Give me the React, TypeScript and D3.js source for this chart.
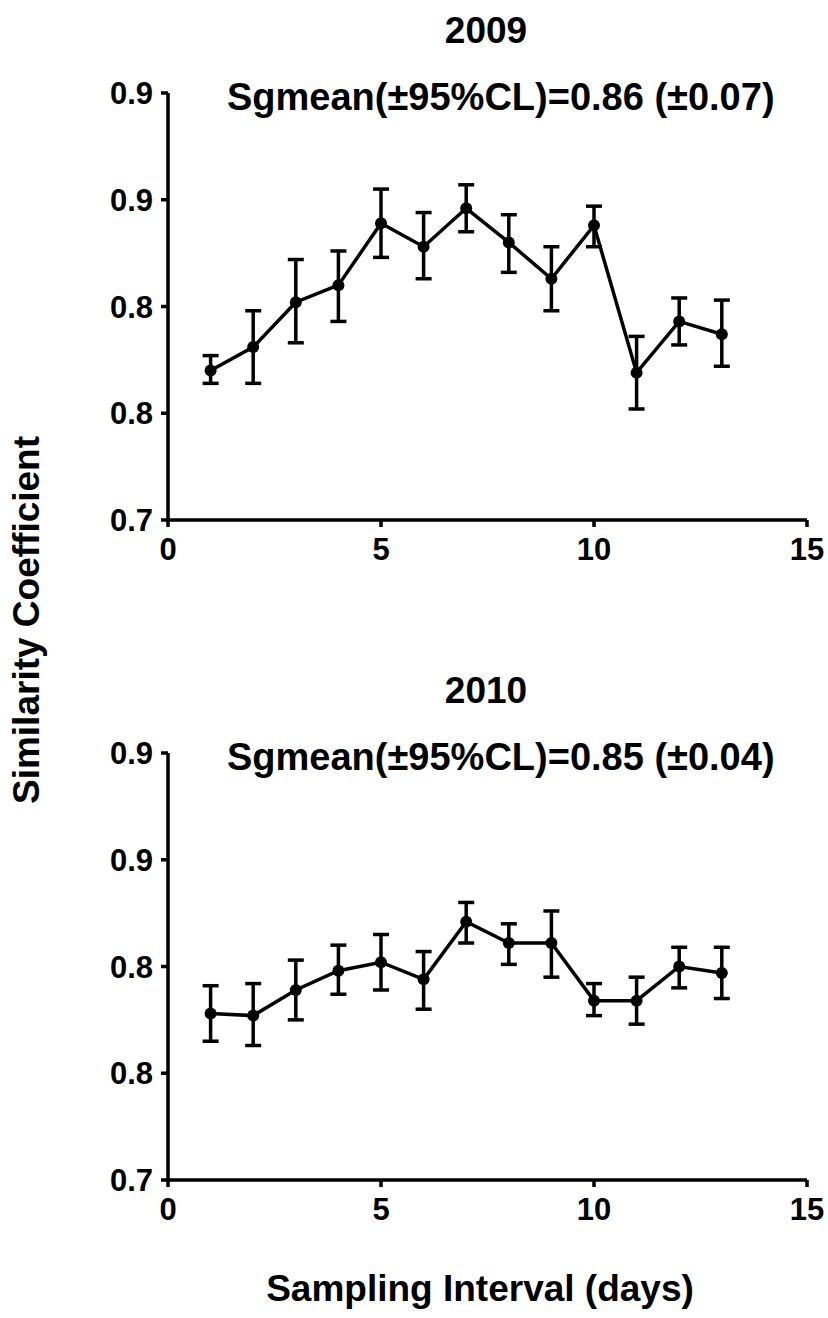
import * as d3 from "d3";

const W = 828;
const H = 1318;
const FONT = "'Liberation Sans', Arial, Helvetica, sans-serif";

const intervals = [1, 2, 3, 4, 5, 6, 7, 8, 9, 10, 11, 12, 13];

const mean2009 = [0.770, 0.781, 0.802, 0.810, 0.839, 0.828, 0.846, 0.830, 0.813, 0.838, 0.769, 0.793, 0.787];
const hi2009 = [0.777, 0.798, 0.822, 0.826, 0.855, 0.844, 0.857, 0.843, 0.828, 0.847, 0.786, 0.804, 0.803];
const lo2009 = [0.764, 0.764, 0.783, 0.793, 0.823, 0.813, 0.835, 0.816, 0.798, 0.828, 0.752, 0.782, 0.772];

const mean2010 = [0.778, 0.777, 0.789, 0.798, 0.802, 0.794, 0.821, 0.811, 0.811, 0.784, 0.784, 0.800, 0.797];
const hi2010 = [0.791, 0.792, 0.803, 0.810, 0.815, 0.807, 0.830, 0.820, 0.826, 0.792, 0.795, 0.809, 0.809];
const lo2010 = [0.765, 0.763, 0.775, 0.787, 0.789, 0.780, 0.811, 0.801, 0.795, 0.777, 0.773, 0.790, 0.785];

// the original figure rounds its y ticks to one decimal
const yTickValues = [0.7, 0.75, 0.8, 0.85, 0.9];
const yTickLabels = ["0.7", "0.8", "0.8", "0.9", "0.9"];
const xTickValues = [0, 5, 10, 15];

const LEFT = 168;
const RIGHT = 807;
const SW = 3.5;

const x = d3.scaleLinear().domain([0, 15]).range([LEFT, RIGHT]);

type PanelProps = {
  title: string;
  subtitle: string;
  top: number;
  mean: number[];
  lo: number[];
  hi: number[];
};

const Panel = ({ title, subtitle, top, mean, lo, hi }: PanelProps) => {
  const bottom = top + 427;
  const y = d3.scaleLinear().domain([0.7, 0.9]).range([bottom, top]);
  const pts = intervals.map((d, i) => ({ x: d, m: mean[i], lo: lo[i], hi: hi[i] }));
  const line = d3
    .line<{ x: number; m: number }>()
    .x((d) => x(d.x))
    .y((d) => y(d.m));
  const cap = 8;

  return (
    <g>
      <text x={486} y={top - 50} textAnchor="middle" fontSize={37} fontWeight={700} fontFamily={FONT}>
        {title}
      </text>
      <text x={227} y={top + 17} fontSize={38} fontWeight={700} fontFamily={FONT}>
        {subtitle}
      </text>

      {/* axes */}
      <line x1={LEFT} x2={LEFT} y1={top} y2={bottom} stroke="#000" strokeWidth={SW} />
      <line x1={LEFT} x2={RIGHT} y1={bottom} y2={bottom} stroke="#000" strokeWidth={SW} />
      {yTickValues.map((v, i) => (
        <g key={"y" + i}>
          <line x1={LEFT - 7} x2={LEFT} y1={y(v)} y2={y(v)} stroke="#000" strokeWidth={SW} />
          <text x={153} y={y(v)} dy="0.36em" textAnchor="end" fontSize={31} fontWeight={700} fontFamily={FONT}>
            {yTickLabels[i]}
          </text>
        </g>
      ))}
      {xTickValues.map((v) => (
        <g key={"x" + v}>
          <line x1={x(v)} x2={x(v)} y1={bottom} y2={bottom + 7} stroke="#000" strokeWidth={SW} />
          <text x={x(v)} y={bottom + 40} textAnchor="middle" fontSize={31} fontWeight={700} fontFamily={FONT}>
            {v}
          </text>
        </g>
      ))}

      {/* error bars */}
      {pts.map((p) => (
        <g key={"e" + p.x} stroke="#000" strokeWidth={SW}>
          <line x1={x(p.x)} x2={x(p.x)} y1={y(p.lo)} y2={y(p.hi)} />
          <line x1={x(p.x) - cap} x2={x(p.x) + cap} y1={y(p.lo)} y2={y(p.lo)} />
          <line x1={x(p.x) - cap} x2={x(p.x) + cap} y1={y(p.hi)} y2={y(p.hi)} />
        </g>
      ))}
      <path d={line(pts) ?? ""} fill="none" stroke="#000" strokeWidth={SW} />
      {pts.map((p) => (
        <circle key={"c" + p.x} cx={x(p.x)} cy={y(p.m)} r={6} fill="#000" />
      ))}
    </g>
  );
};

export default function App() {
  return (
    <svg width={W} height={H} style={{ position: "absolute", left: 0, top: 0, background: "#fff" }}>
      <rect width={W} height={H} fill="#fff" />
      <Panel
        title="2009"
        subtitle="Sgmean(±95%CL)=0.86 (±0.07)"
        top={93}
        mean={mean2009}
        lo={lo2009}
        hi={hi2009}
      />
      <Panel
        title="2010"
        subtitle="Sgmean(±95%CL)=0.85 (±0.04)"
        top={753}
        mean={mean2010}
        lo={lo2010}
        hi={hi2010}
      />
      <text
        transform="translate(39, 620) rotate(-90)"
        textAnchor="middle"
        fontSize={37}
        fontWeight={700}
        fontFamily={FONT}
      >
        Similarity Coefficient
      </text>
      <text x={480} y={1301} textAnchor="middle" fontSize={37} fontWeight={700} fontFamily={FONT}>
        Sampling Interval (days)
      </text>
    </svg>
  );
}
